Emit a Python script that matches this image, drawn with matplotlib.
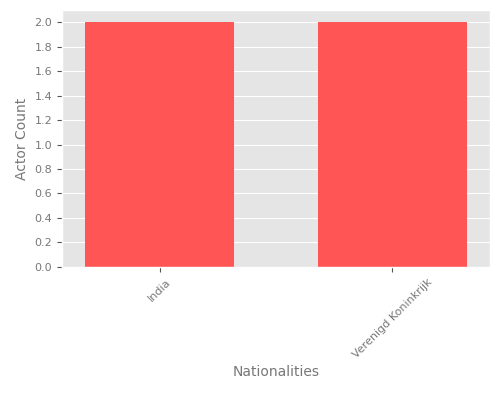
import matplotlib
matplotlib.use("Agg")
import matplotlib.pyplot as plt

nationalities = ["India", "Verenigd Koninkrijk"]
actor_counts = [2, 2]

plt.style.use("ggplot")
fig, ax = plt.subplots(figsize=(5, 4), dpi=100)
ax.bar(range(len(nationalities)), actor_counts, width=0.64, color="#ff5555")
ax.set_xticks(range(len(nationalities)))
ax.set_xticklabels(nationalities, rotation=45, color="#777777", fontsize=8)
ax.set_xlim(-0.42, 1.42)
ax.set_ylim(0, 2.1)
ax.set_yticks([i / 5 for i in range(11)])
ax.set_yticklabels(["%.1f" % (i / 5) for i in range(11)], fontsize=8, color="#777777")
ax.grid(axis="x", visible=False)
ax.set_xlabel("Nationalities", color="#777777", fontsize=10)
ax.set_ylabel("Actor Count", color="#777777", fontsize=10)
fig.subplots_adjust(left=0.124, right=0.98, top=0.975, bottom=0.333)
fig.savefig("out.png")
